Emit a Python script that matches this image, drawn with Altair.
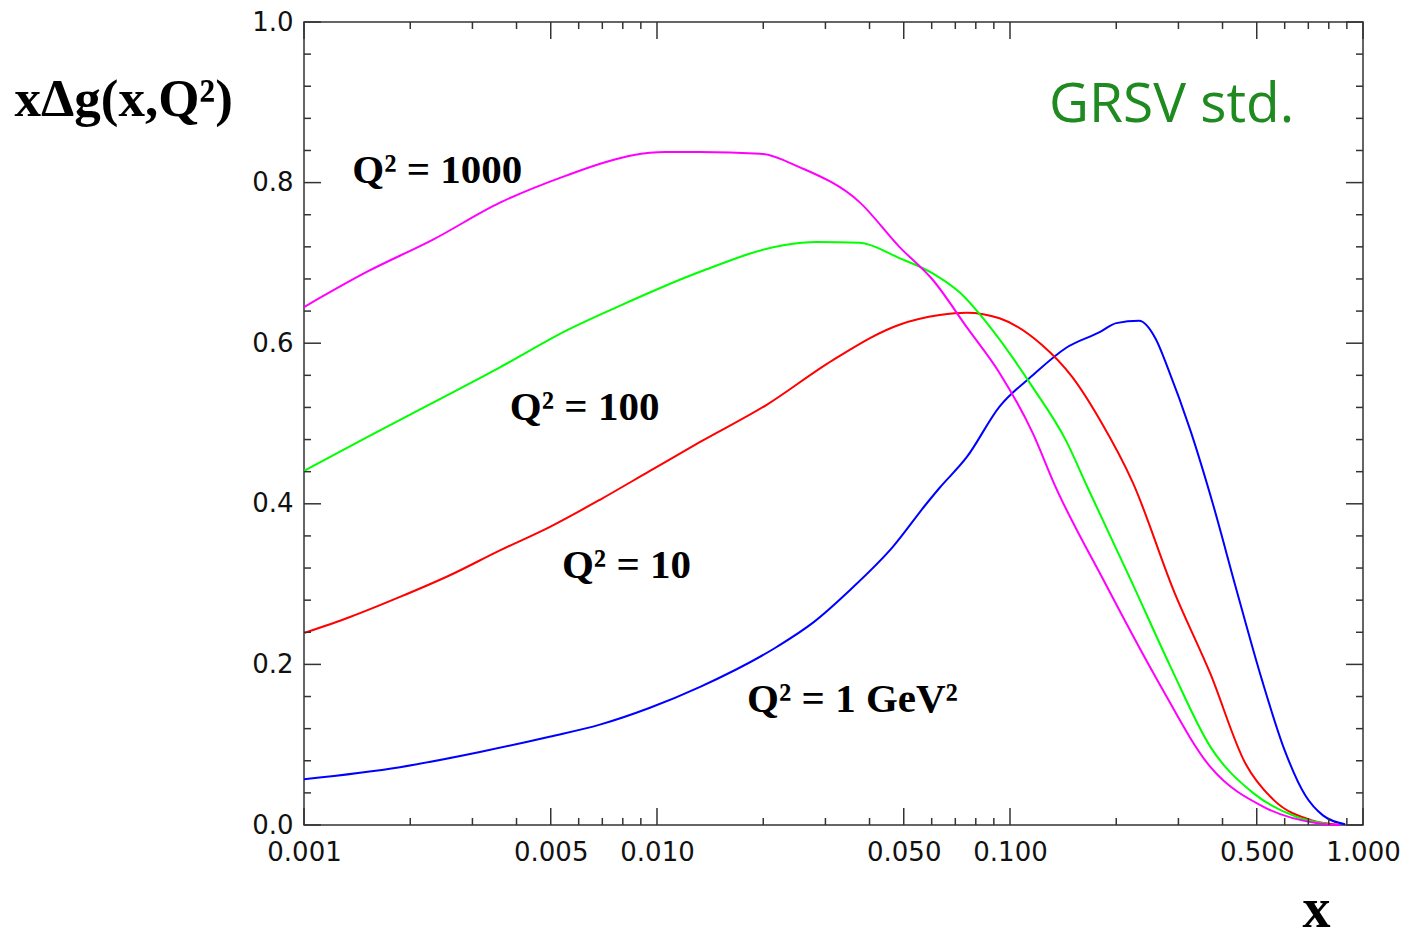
import altair as alt
import pandas as pd

# ---- data ----
x_q1 = [0.001, 0.00187, 0.00315, 0.00496, 0.00689, 0.00955, 0.01325, 0.02188, 0.02767,
        0.0353, 0.0465, 0.0582, 0.0632, 0.0754, 0.0934, 0.116, 0.144, 0.180, 0.200, 0.232,
        0.259, 0.280, 0.324, 0.375, 0.438, 0.517, 0.600, 0.686, 0.770, 0.890]
y_q1 = [0.057, 0.072, 0.091, 0.110, 0.125, 0.146, 0.172, 0.222, 0.252,
        0.293, 0.346, 0.401, 0.420, 0.458, 0.521, 0.560, 0.594, 0.614, 0.625, 0.628,
        0.605, 0.569, 0.492, 0.401, 0.293, 0.181, 0.093, 0.037, 0.012, 0.001]

x_q10 = [0.001, 0.00135, 0.00187, 0.00259, 0.00359, 0.00496, 0.00689, 0.00955, 0.01325, 0.0204,
         0.0315, 0.0486, 0.0632, 0.0754, 0.0934, 0.123, 0.150, 0.180, 0.223, 0.292, 0.369,
         0.464, 0.559, 0.713, 0.86]
y_q10 = [0.239, 0.259, 0.284, 0.311, 0.342, 0.371, 0.405, 0.441, 0.477, 0.523,
         0.579, 0.623, 0.635, 0.638, 0.631, 0.598, 0.558, 0.504, 0.426, 0.290, 0.189,
         0.077, 0.031, 0.006, 0.0]

x_q100 = [0.001, 0.00151, 0.00232, 0.00359, 0.00555, 0.00770, 0.01325, 0.0228, 0.0284, 0.0375,
          0.0486, 0.0604, 0.0721, 0.0893, 0.116, 0.144, 0.166, 0.220, 0.285, 0.370, 0.488,
          0.65, 0.80]
y_q100 = [0.441, 0.483, 0.526, 0.570, 0.616, 0.645, 0.689, 0.722, 0.726, 0.725,
          0.706, 0.687, 0.663, 0.616, 0.545, 0.479, 0.420, 0.305, 0.197, 0.097, 0.040,
          0.010, 0.001]

x_q1000 = [0.001, 0.00151, 0.00232, 0.00359, 0.00555, 0.00721, 0.00853, 0.0106, 0.01325, 0.0196,
           0.0254, 0.0374, 0.0486, 0.0604, 0.0754, 0.0934, 0.116, 0.134, 0.184, 0.261, 0.370,
           0.526, 0.75, 0.86]
y_q1000 = [0.645, 0.689, 0.729, 0.775, 0.809, 0.826, 0.834, 0.838, 0.838, 0.836,
           0.819, 0.776, 0.720, 0.679, 0.620, 0.563, 0.488, 0.423, 0.305, 0.181, 0.072,
           0.022, 0.002, 0.0]

series_names = ["Q2=1", "Q2=10", "Q2=100", "Q2=1000"]
series_colors = ["#0000ff", "#ff0000", "#00ff00", "#ff00ff"]

label_text = ["Q² = 1000", "Q² = 100", "Q² = 10", "Q² = 1 GeV²"]
label_x = [0.00137, 0.00383, 0.00538, 0.0180]
label_y = [0.7995, 0.504, 0.3076, 0.1407]

note_text = ["GRSV std."]
note_x = [0.1290]
note_y = [0.8755]

x_label_values = [0.001, 0.005, 0.01, 0.05, 0.1, 0.5, 1.0]
x_major_ticks = [0.001, 0.005, 0.01, 0.05, 0.1, 0.5, 1.0]
x_minor_ticks = [0.002, 0.003, 0.004, 0.006, 0.007, 0.008, 0.009,
                 0.02, 0.03, 0.04, 0.06, 0.07, 0.08, 0.09,
                 0.2, 0.3, 0.4, 0.6, 0.7, 0.8, 0.9]
y_label_values = [0.0, 0.2, 0.4, 0.6, 0.8, 1.0]
y_major_ticks = [0.0, 0.2, 0.4, 0.6, 0.8, 1.0]
y_minor_ticks = [0.04, 0.08, 0.12, 0.16, 0.24, 0.28, 0.32, 0.36, 0.44, 0.48, 0.52, 0.56,
                 0.64, 0.68, 0.72, 0.76, 0.84, 0.88, 0.92, 0.96]

# ---- build tables ----
rows = []
for name, xs_, ys_ in zip(series_names, [x_q1, x_q10, x_q100, x_q1000],
                          [y_q1, y_q10, y_q100, y_q1000]):
    for a, b in zip(xs_, ys_):
        rows.append({"x": a, "y": b, "series": name})
df_lines = pd.DataFrame(rows)
df_labels = pd.DataFrame({"x": label_x, "y": label_y, "text": label_text})
df_note = pd.DataFrame({"x": note_x, "y": note_y, "text": note_text})
df_xmaj = pd.DataFrame({"x": x_major_ticks})
df_xmin = pd.DataFrame({"x": x_minor_ticks})
df_ymaj = pd.DataFrame({"y": y_major_ticks})
df_ymin = pd.DataFrame({"y": y_minor_ticks})

W, H = 1059, 803
MAJ, MIN = 17, 7
TICK_COLOR = "#333333"

xs = alt.Scale(type="log", domain=[0.001, 1.0], nice=False)
ys = alt.Scale(domain=[0.0, 1.0], nice=False, zero=False)

x_axis = alt.Axis(
    values=x_label_values, format=".3f", ticks=False, tickSize=0, domain=False, grid=False,
    labelFont="DejaVu Sans", labelFontSize=26, labelColor="#111111", labelPadding=14,
    labelOverlap=False, labelFlush=False,
    title="x", titleFont="Liberation Serif", titleFontWeight="bold", titleFontSize=56,
    titleColor="#000000", titleX=1012, titleY=101, titleAlign="center",
    titleBaseline="alphabetic", titleAnchor="start",
)
y_axis = alt.Axis(
    values=y_label_values, format=".1f", ticks=False, tickSize=0, domain=False, grid=False,
    labelFont="DejaVu Sans", labelFontSize=26, labelColor="#111111", labelPadding=11,
    labelOverlap=False, labelFlush=False,
    title="xΔg(x,Q²)", titleFont="Liberation Serif", titleFontWeight="bold", titleFontSize=53,
    titleColor="#000000", titleAngle=0, titleX=-290, titleY=93, titleAlign="left",
    titleBaseline="alphabetic", titleAnchor="start",
)

X = alt.X("x:Q", scale=xs, axis=x_axis)
Y = alt.Y("y:Q", scale=ys, axis=y_axis)

lines = alt.Chart(df_lines).mark_line(strokeWidth=2, interpolate="monotone").encode(
    x=X, y=Y,
    color=alt.Color("series:N", scale=alt.Scale(domain=series_names, range=series_colors),
                    legend=None),
    detail="series:N",
)

labels = alt.Chart(df_labels).mark_text(
    align="left", baseline="alphabetic", font="Liberation Serif", fontWeight="bold",
    fontSize=41, color="#000000",
).encode(x=X, y=Y, text="text:N")

note = alt.Chart(df_note).mark_text(
    align="left", baseline="alphabetic", font="Comic Sans MS, Open Sans",
    fontSize=55, color="#1f8a1f",
).encode(x=X, y=Y, text="text:N")

def xticks(df, y0, y1):
    return alt.Chart(df).mark_rule(color=TICK_COLOR, strokeWidth=1.5).encode(
        x=X, y=alt.value(y0), y2=alt.value(y1))

def yticks(df, x0, x1):
    return alt.Chart(df).mark_rule(color=TICK_COLOR, strokeWidth=1.5).encode(
        y=Y, x=alt.value(x0), x2=alt.value(x1))

ticks = [
    xticks(df_xmaj, H, H - MAJ), xticks(df_xmin, H, H - MIN),
    xticks(df_xmaj, 0, MAJ), xticks(df_xmin, 0, MIN),
    yticks(df_ymaj, 0, MAJ), yticks(df_ymin, 0, MIN),
    yticks(df_ymaj, W, W - MAJ), yticks(df_ymin, W, W - MIN),
]

chart = alt.layer(lines, labels, note, *ticks).properties(
    width=W, height=H,
    padding={"left": 296, "top": 14, "right": 38, "bottom": 112},
    autosize=alt.AutoSizeParams(type="none"),
    background="#ffffff",
).configure_view(stroke=TICK_COLOR, strokeWidth=1.5)

chart.save("out.html", embed_options={"renderer": "svg", "actions": False})
